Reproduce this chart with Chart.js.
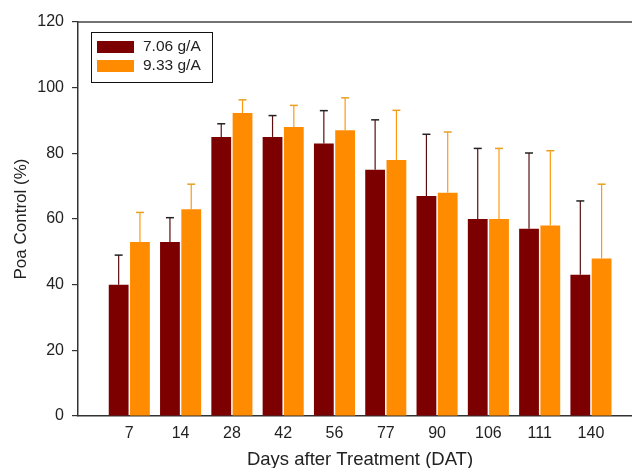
<!DOCTYPE html>
<html>
<head>
<meta charset="utf-8">
<script src="https://cdn.jsdelivr.net/npm/chart.js@4/dist/chart.umd.min.js"></script>
<style>
html,body{margin:0;padding:0;overflow:hidden;background:#fff;}
#c{display:block;}
</style>
</head>
<body>
<canvas id="c" width="632" height="468"></canvas>
<script>
const categories = ['7','14','28','42','56','77','90','106','111','140'];
const rateLowLabel = '7.06 g/A';
const rateHighLabel = '9.33 g/A';
const rateLow = [40, 53, 85, 85, 83, 75, 67, 60, 57, 43];
const rateLowErrTop = [49, 60.4, 89, 91.5, 93, 90.2, 85.8, 81.5, 80.1, 65.5];
const rateHigh = [53, 63, 92.3, 88, 87, 78, 68, 60, 58, 48];
const rateHighErrTop = [62, 70.6, 96.3, 94.6, 96.9, 93.1, 86.5, 81.5, 80.8, 70.6];
const yTicks = [0, 20, 40, 60, 80, 100, 120];
const xTitle = 'Days after Treatment (DAT)';
const yTitle = 'Poa Control (%)';

const darkColor = '#7d0000';
const orangeColor = '#ff8c00';
const FONT = '"Liberation Sans", Arial, sans-serif';

// categories placed at positions 1..10 on a slot axis
const toPoints = arr => arr.map((v, i) => ({ x: i + 1, y: v }));

const errorBars = {
  id: 'errorBars',
  afterDatasetsDraw(chart) {
    const ctx = chart.ctx;
    const y = chart.scales.y;
    const errs = [rateLowErrTop, rateHighErrTop];
    const lineCols = ['#5a1010', '#ff9a10'];
    const capCols = ['#222222', '#e8a020'];
    chart.data.datasets.forEach((ds, di) => {
      const meta = chart.getDatasetMeta(di);
      meta.data.forEach((bar, i) => {
        const top = y.getPixelForValue(errs[di][i]);
        ctx.save();
        ctx.strokeStyle = lineCols[di];
        ctx.lineWidth = 1.2;
        ctx.beginPath();
        ctx.moveTo(bar.x, bar.y);
        ctx.lineTo(bar.x, top);
        ctx.stroke();
        ctx.strokeStyle = capCols[di];
        ctx.lineWidth = 1.5;
        ctx.beginPath();
        ctx.moveTo(bar.x - 4, top);
        ctx.lineTo(bar.x + 4, top);
        ctx.stroke();
        ctx.restore();
      });
    });
  }
};

const frameAndLegend = {
  id: 'frameAndLegend',
  afterDraw(chart) {
    const ctx = chart.ctx;
    const a = chart.chartArea;
    ctx.save();
    ctx.strokeStyle = '#444';
    ctx.lineWidth = 1.5;
    ctx.beginPath();
    ctx.moveTo(a.left, a.top);
    ctx.lineTo(a.right, a.top);
    ctx.stroke();
    // axis titles
    ctx.fillStyle = '#222';
    ctx.font = '18.5px ' + FONT;
    ctx.textAlign = 'center';
    ctx.textBaseline = 'alphabetic';
    ctx.fillText(xTitle, 360, 465);
    ctx.save();
    ctx.translate(21, 219);
    ctx.rotate(-Math.PI / 2);
    ctx.font = '17px ' + FONT;
    ctx.textBaseline = 'middle';
    ctx.fillText(yTitle, 0, 0);
    ctx.restore();
    // legend
    const lx = 91, ly = 32, lw = 121, lh = 50;
    ctx.fillStyle = '#fff';
    ctx.fillRect(lx, ly, lw, lh);
    ctx.strokeStyle = '#111';
    ctx.lineWidth = 1;
    ctx.strokeRect(lx + 0.5, ly + 0.5, lw, lh);
    const items = [[darkColor, rateLowLabel, 41], [orangeColor, rateHighLabel, 60]];
    ctx.font = '15.5px ' + FONT;
    ctx.textAlign = 'left';
    ctx.textBaseline = 'middle';
    items.forEach(([col, txt, yy]) => {
      ctx.fillStyle = col;
      ctx.fillRect(97, yy, 37, 12);
      ctx.fillStyle = '#222';
      ctx.fillText(txt, 143, yy + 6);
    });
    ctx.restore();
  }
};

new Chart(document.getElementById('c'), {
  type: 'bar',
  data: {
    datasets: [
      { label: rateLowLabel, data: toPoints(rateLow), backgroundColor: darkColor,
        categoryPercentage: 0.83, barPercentage: 0.93 },
      { label: rateHighLabel, data: toPoints(rateHigh), backgroundColor: orangeColor,
        categoryPercentage: 0.83, barPercentage: 0.93 }
    ]
  },
  options: {
    responsive: false,
    animation: false,
    events: [],
    layout: { padding: { top: 22, right: 0, left: 0, bottom: 0 } },
    plugins: { legend: { display: false }, tooltip: { enabled: false } },
    scales: {
      x: {
        type: 'linear',
        min: 0,
        max: 10.8,
        offset: false,
        afterBuildTicks(s) { s.ticks = categories.map((c, i) => ({ value: i + 1 })); },
        grid: { display: false, drawTicks: false },
        border: { display: true, color: '#333', width: 1.5 },
        ticks: { color: '#222', padding: 8, maxRotation: 0, autoSkip: false,
                 callback: v => categories[Math.round(v) - 1] || '',
                 font: { family: FONT, size: 16 } },
        afterFit(s) { s.height = 52; }
      },
      y: {
        min: 0, max: 120,
        afterBuildTicks(s) { s.ticks = yTicks.map(v => ({ value: v })); },
        grid: { drawOnChartArea: false, drawTicks: true, tickLength: 6, color: '#333', lineWidth: 1.2 },
        border: { display: true, color: '#333', width: 1.5 },
        ticks: { color: '#222', padding: 8,
                 font: { family: FONT, size: 16 } },
        afterFit(s) { s.width = 78; }
      }
    }
  },
  plugins: [errorBars, frameAndLegend]
});
</script>
</body>
</html>
